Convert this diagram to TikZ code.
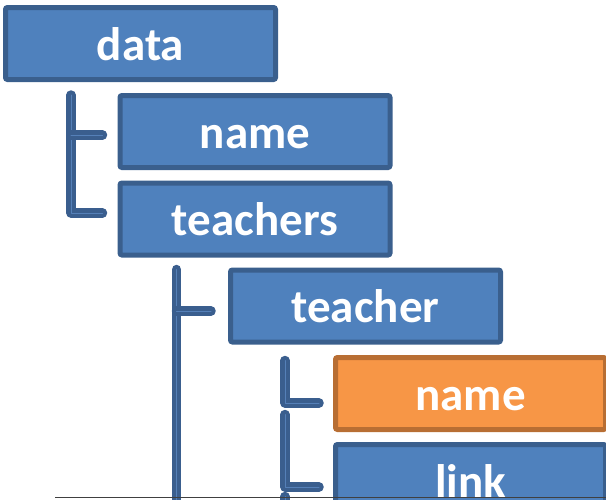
\documentclass[tikz,border=0pt]{standalone}
\usepackage{fontspec}
\setmainfont{Carlito}
\usetikzlibrary{calc}
\definecolor{boxfill}{HTML}{4F81BD}
\definecolor{boxedge}{HTML}{3A5F8D}
\definecolor{hlfill}{HTML}{F79646}
\definecolor{hledge}{HTML}{B86E33}
\definecolor{barcol}{HTML}{3A5E8E}
\definecolor{barshine}{HTML}{5580B8}
\tikzset{
  box/.style={draw=boxedge, fill=boxfill, line width=5pt, rounded corners=2pt,
    minimum width=270pt, minimum height=72pt, inner sep=0pt,
    text=white, font=\fontsize{47}{56}\selectfont\bfseries,
    text height=33pt, text depth=0pt},
  hlbox/.style={box, draw=hledge, fill=hlfill},
  bar/.style={draw=barcol, line width=9.5pt, line cap=round, line join=round,
    postaction={draw=barshine, line width=1pt}},
  rule/.style={draw=black!75, line width=1.2pt}
}
\begin{document}
\begin{tikzpicture}[x=1pt,y=-1pt]
\useasboundingbox (0,0) rectangle (606,499);
\clip (0,0) rectangle (606,499);

% tree boxes
\node[box]   (data)     at (140.5, 43.5) {data};
\node[box]   (name)     at (255, 131.5)  {name};
\node[box]   (teachers) at (255, 219)    {teachers};
\node[box]   (teacher)  at (365.5, 306)  {teacher};
\node[hlbox] (tname)    at (470.5, 393.5) {name};
\node[box]   (link)     at (470.5, 480.5) {link};

% connector anchors
\coordinate (d1) at ($(data.south west)+(68,13)$);
\coordinate (nameIn) at ($(name.west)+(-15,3.5)$);
\coordinate (teachersIn) at ($(teachers.west)+(-15,-6)$);
\coordinate (t1) at ($(teachers.south west)+(59,12)$);
\coordinate (teacherIn) at ($(teacher.west)+(-17,5)$);
\coordinate (tEnd) at ($(t1)+(0,260)$);
\coordinate (n1) at ($(teacher.south west)+(57,16)$);
\coordinate (tnameIn) at ($(tname.west)+(-14,9.5)$);
\coordinate (n2) at ($(n1)+(0,54)$);
\coordinate (linkIn) at ($(link.west)+(-14,6.5)$);
\coordinate (n3) at ($(n2)+(0,82)$);
\coordinate (nEnd) at ($(n3)+(0,60)$);

% connectors
\draw[bar] (d1) |- (teachersIn);
\draw[bar] (d1 |- nameIn) -- (nameIn);
\draw[bar] (t1) -- (tEnd);
\draw[bar] (t1 |- teacherIn) -- (teacherIn);
\draw[bar] (n1) |- (tnameIn);
\draw[bar] (n2) |- (linkIn);
\draw[bar] (n3) -- (nEnd);

% bottom rule
\coordinate (ruleL) at (55,497.8);
\draw[rule] (ruleL) -- (ruleL -| link.east);
\end{tikzpicture}
\end{document}
